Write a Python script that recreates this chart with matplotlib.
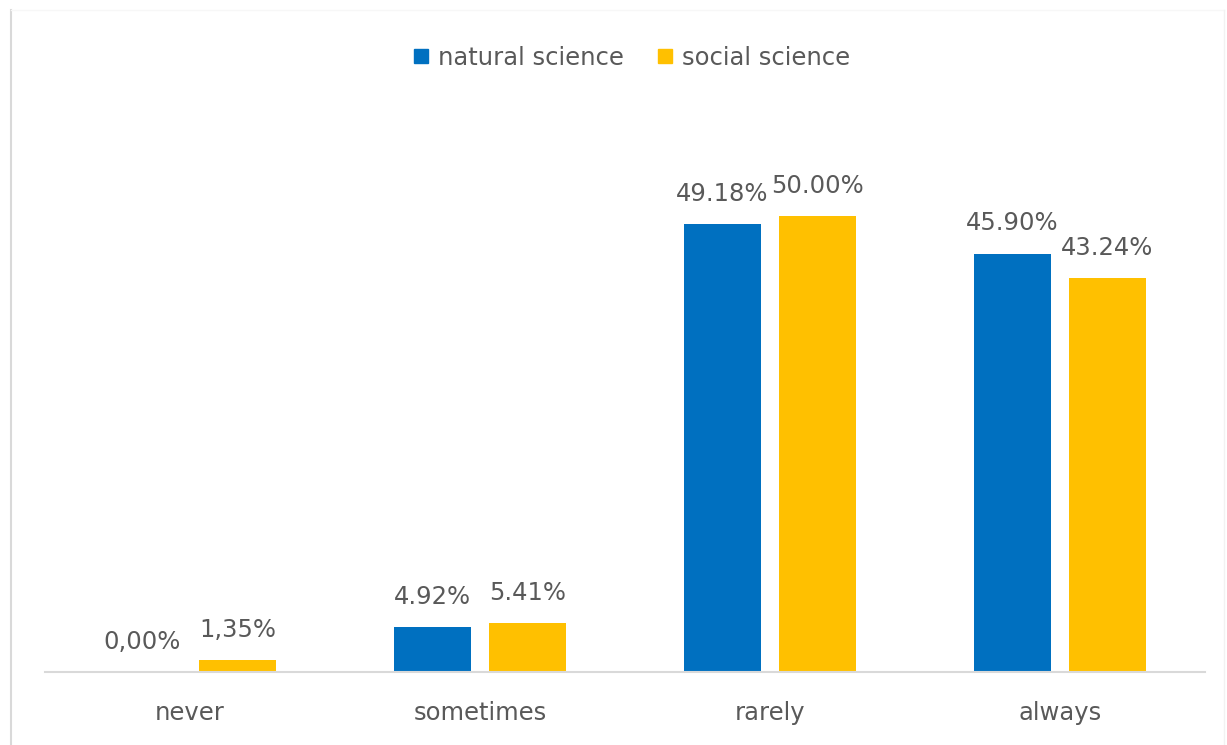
import matplotlib

matplotlib.use("Agg")
import matplotlib.pyplot as plt
from matplotlib.lines import Line2D
import numpy as np

categories = ["never", "sometimes", "rarely", "always"]
natural = [0.00, 4.92, 49.18, 45.90]
social = [1.35, 5.41, 50.00, 43.24]
natural_labels = ["0,00%", "4.92%", "49.18%", "45.90%"]
social_labels = ["1,35%", "5.41%", "50.00%", "43.24%"]

C_BLUE = "#0070C0"
C_YELLOW = "#FFC000"
C_TEXT = "#595959"
C_AXIS = "#D9D9D9"

plt.rcParams["font.family"] = "DejaVu Sans"

fig = plt.figure(figsize=(12.27, 7.45), dpi=100)
ax = fig.add_axes([45 / 1227, 73 / 745, 1160 / 1227, 547 / 745])

x = np.arange(len(categories))
w, off = 0.266, 0.164
b1 = ax.bar(x - off, natural, w, color=C_BLUE, zorder=2)
b2 = ax.bar(x + off, social, w, color=C_YELLOW, zorder=2)

for bars, labels in ((b1, natural_labels), (b2, social_labels)):
    for rect, lab in zip(bars, labels):
        ax.annotate(lab, (rect.get_x() + rect.get_width() / 2, rect.get_height()),
                    xytext=(0, 13), textcoords="offset points",
                    ha="center", va="bottom", fontsize=17.5, color=C_TEXT)

ax.set_xlim(-0.5, 3.5)
ax.set_ylim(0, 60)
ax.set_xticks(x)
ax.set_xticklabels(categories, fontsize=17.5, color=C_TEXT)
ax.tick_params(axis="x", length=0, pad=21)
ax.set_yticks([])
for side in ("top", "right", "left"):
    ax.spines[side].set_visible(False)
ax.spines["bottom"].set_color(C_AXIS)
ax.spines["bottom"].set_linewidth(1.5)

handles = [
    Line2D([], [], marker="s", ls="", color=C_BLUE, markersize=10),
    Line2D([], [], marker="s", ls="", color=C_YELLOW, markersize=10),
]
fig.legend(handles, ["natural science", "social science"], loc="center",
           bbox_to_anchor=(631 / 1227, 1 - 58 / 745), ncol=2, frameon=False,
           fontsize=17.5, labelcolor=C_TEXT, handletextpad=0.3, columnspacing=1.3,
           handlelength=0.8)

# chart-area border (left and top edges)
fig.add_artist(Line2D([11 / 1227, 11 / 1227], [0, 1 - 10 / 745],
                      transform=fig.transFigure, color=C_AXIS, lw=1.5))
fig.add_artist(Line2D([11 / 1227, 1224 / 1227], [1 - 10 / 745, 1 - 10 / 745],
                      transform=fig.transFigure, color="#F7F7F7", lw=1.0))
fig.add_artist(Line2D([1224 / 1227, 1224 / 1227], [0, 1 - 10 / 745],
                      transform=fig.transFigure, color="#F2F2F2", lw=1.0))

fig.savefig("out.png", dpi=100)
